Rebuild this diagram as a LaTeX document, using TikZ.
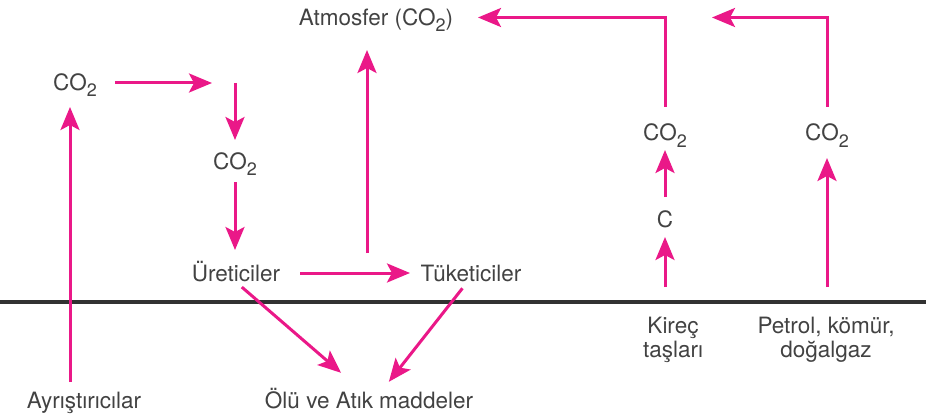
\documentclass[tikz,border=0pt]{standalone}
\usepackage{fontspec}
\setmainfont{TeX Gyre Heros}
\usetikzlibrary{arrows.meta}
\definecolor{pinkarr}{RGB}{234,24,136}
\definecolor{txtgray}{RGB}{66,66,66}
\definecolor{linegray}{RGB}{50,50,50}
\newcommand\subtwo{\raisebox{-6pt}{\fontsize{18}{18}\selectfont 2}}
\tikzset{
  txt/.style={font=\fontsize{22.5}{24}\selectfont, text=txtgray, inner sep=0pt, text height=16pt, text depth=0pt},
  txttwo/.style={font=\fontsize{22.5}{24}\selectfont, text=txtgray, inner sep=0pt, align=center, anchor=north},
  arr/.style={draw=pinkarr, line width=3pt, -{Stealth[length=23pt,width=19pt,inset=5pt]}},
}
\begin{document}
\begin{tikzpicture}[x=1pt,y=-1pt]
\useasboundingbox (0,0) rectangle (926,417);
% nodes
\node[txt] (atm) at (376,17.5) {Atmosfer (CO\subtwo)};
\node[txt] (co2a) at (75,83) {CO\subtwo};
\node[txt] (co2b) at (235,161) {CO\subtwo};
\node[txt] (ure) at (236,273) {Üreticiler};
\node[txt] (tuk) at (471,273) {Tüketiciler};
\node[txt] (co2c) at (665,133) {CO\subtwo};
\node[txt] (c) at (665,219) {C};
\node[txt] (co2p) at (827,133) {CO\subtwo};
\node[txttwo] (kir) at (673,317) {Kireç\\taşları};
\node[txttwo] (pet) at (826,317) {Petrol, kömür,\\doğalgaz};
\node[txt] (ayr) at (84,400) {Ayrıştırıcılar};
\node[txt] (olu) at (369,400) {Ölü ve Atık maddeler};
\coordinate (k1) at (235,83);
\coordinate (m) at (367,273);
\coordinate (tp) at (712,17.5);
\coordinate (ka) at (70,83);
% ground line
\draw[linegray, line width=3.3pt] (0,302) -- (926,302);
% arrows
\draw[arr, shorten <=40pt, shorten >=23pt] (co2a.center) -- (k1);
\draw[arr, shorten >=21pt] (k1) -- (co2b.center);
\draw[arr, shorten <=21pt, shorten >=23pt] (co2b.center) -- (co2b.center |- ure.center);
\draw[arr, shorten <=64pt, shorten >=61pt] (ure.center) -- (tuk.center);
\draw[arr, shorten <=20pt, shorten >=32.5pt] (m) -- (m |- atm.center);
\draw[arr, shorten <=26pt, shorten >=102pt] (co2c.center) |- (atm.center);
\draw[arr, shorten <=26pt] (co2p.center) |- (tp);
\draw[arr, shorten <=22pt, shorten >=17pt] (c.center) -- (co2c.center);
\draw[arr, shorten <=30pt, shorten >=18pt] (c.center |- kir.north) -- (c.center);
\draw[arr, shorten <=30pt, shorten >=25pt] (co2p.center |- pet.north) -- (co2p.center);
\draw[arr, shorten <=18pt, shorten >=24pt] (ka |- ayr.center) -- (ka);
\draw[arr, shorten <=9pt, shorten >=29pt] ([xshift=-1pt]ure.south) -- ([xshift=-6pt]olu.north);
\draw[arr, shorten <=9pt, shorten >=12.7pt] ([xshift=-3pt]tuk.south) -- ([xshift=12pt]olu.north);
\end{tikzpicture}
\end{document}
